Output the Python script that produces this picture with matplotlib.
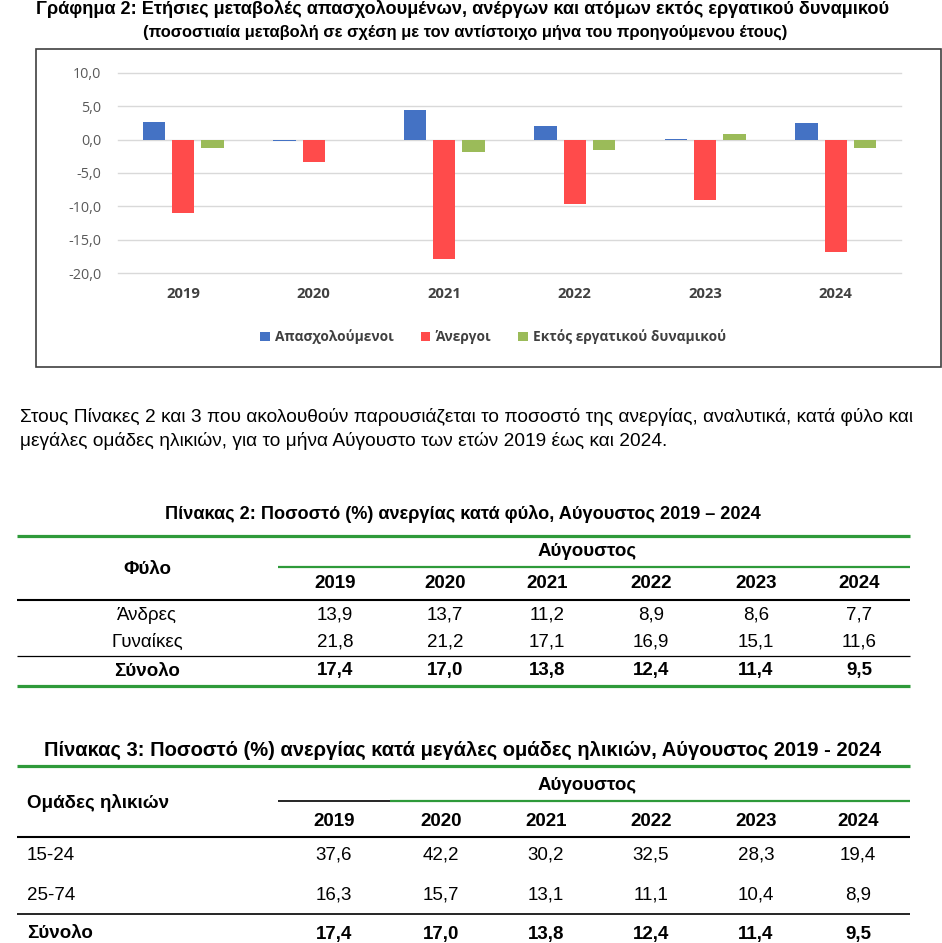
import matplotlib
matplotlib.use('Agg')
import matplotlib.pyplot as plt
import numpy as np
from matplotlib import font_manager
from matplotlib.patches import Rectangle

# chart data (annual % change)
years = ['2019', '2020', '2021', '2022', '2023', '2024']
employed = [2.7, -0.2, 4.4, 2.0, 0.1, 2.5]
unemployed = [-11.0, -3.3, -17.8, -9.7, -9.1, -16.8]
inactive = [-1.3, 0.0, -1.8, -1.6, 0.8, -1.3]
series_names = ['Απασχολούμενοι', 'Άνεργοι', 'Εκτός εργατικού δυναμικού']
yticks = [10, 5, 0, -5, -10, -15, -20]

# table 2: unemployment by sex
sex_labels = ['Άνδρες', 'Γυναίκες', 'Σύνολο']
sex_men = [13.9, 13.7, 11.2, 8.9, 8.6, 7.7]
sex_women = [21.8, 21.2, 17.1, 16.9, 15.1, 11.6]
total = [17.4, 17.0, 13.8, 12.4, 11.4, 9.5]

# table 3: unemployment by age group
age_labels = ['15-24', '25-74', 'Σύνολο']
age_15_24 = [37.6, 42.2, 30.2, 32.5, 28.3, 19.4]
age_25_74 = [16.3, 15.7, 13.1, 11.1, 10.4, 8.9]

title = 'Γράφημα 2: Ετήσιες μεταβολές απασχολουμένων, ανέργων και ατόμων εκτός εργατικού δυναμικού'
subtitle = '(ποσοστιαία μεταβολή σε σχέση με τον αντίστοιχο μήνα του προηγούμενου έτους)'
para1 = 'Στους Πίνακες 2 και 3 που ακολουθούν παρουσιάζεται το ποσοστό της ανεργίας, αναλυτικά, κατά φύλο και'
para2 = 'μεγάλες ομάδες ηλικιών, για το μήνα Αύγουστο των ετών 2019 έως και 2024.'
tab2_title = 'Πίνακας 2: Ποσοστό (%) ανεργίας κατά φύλο, Αύγουστος 2019 – 2024'
tab3_title = 'Πίνακας 3: Ποσοστό (%) ανεργίας κατά μεγάλες ομάδες ηλικιών, Αύγουστος 2019 - 2024'
month = 'Αύγουστος'

installed = {f.name for f in font_manager.fontManager.ttflist}
doc_font = 'Liberation Sans Narrow' if 'Liberation Sans Narrow' in installed else 'Liberation Sans'
chart_font = 'Open Sans'

GREEN = '#2E9A3A'
W, H = 942, 943

fig = plt.figure(figsize=(W / 100, H / 100), dpi=100)
page = fig.add_axes([0, 0, 1, 1])
page.set_xlim(0, W)
page.set_ylim(H, 0)
page.axis('off')
renderer = fig.canvas.get_renderer()


def fit_size(s, width, **kw):
    t = page.text(0, 0, s, fontsize=10, family=doc_font, **kw)
    w = t.get_window_extent(renderer).width
    t.remove()
    return 10 * width / w


def fmt(v):
    return f'{v:.1f}'.replace('.', ',')


# ---- headings
page.text(463, 9, title, ha='center', va='center', family=doc_font, weight='bold',
          fontsize=fit_size(title, 851, weight='bold'))
page.text(465, 32, subtitle, ha='center', va='center', family=doc_font, weight='bold',
          fontsize=fit_size(subtitle, 644, weight='bold'))

# ---- chart box
page.add_patch(Rectangle((36, 49), 905, 318, fill=False, edgecolor='#404040', lw=1.2))

ax = fig.add_axes([118 / W, 1 - 273.3 / H, (901 - 118) / W, (273.3 - 72.7) / H])
x = np.arange(len(years))
bw = 0.172
step = 0.225
ax.bar(x - step, employed, bw, color='#4472C4', label=series_names[0], zorder=3)
ax.bar(x, unemployed, bw, color='#FF4B4B', label=series_names[1], zorder=3)
ax.bar(x + step, inactive, bw, color='#9BBB59', label=series_names[2], zorder=3)
ax.set_xlim(-0.5, len(years) - 0.5)
ax.set_ylim(-20, 10)
ax.set_yticks(yticks)
ax.set_yticklabels([fmt(v) for v in yticks], family=chart_font, fontsize=10.4, color='#595959')
ax.set_xticks(x)
ax.set_xticklabels(years, family=chart_font, fontsize=10.6, weight='bold', color='#404040')
ax.tick_params(axis='x', length=0, pad=10)
ax.tick_params(axis='y', length=0, pad=12)
ax.grid(axis='y', color='#D9D9D9', lw=1)
for line in ax.get_ygridlines():
    line.set_clip_on(False)
for s in ax.spines.values():
    s.set_visible(False)
ax.set_facecolor('none')
leg = fig.legend(*ax.get_legend_handles_labels(), loc='center', ncol=3, frameon=False,
                 bbox_to_anchor=(493 / W, 1 - 337 / H), handlelength=0.7, handleheight=0.7,
                 handletextpad=0.35, columnspacing=2.0,
                 prop={'family': chart_font, 'size': 9.9, 'weight': 'bold'})
for t in leg.get_texts():
    t.set_color('#404040')

# ---- paragraph
psize = fit_size(para1, 898)
page.text(20, 417, para1, ha='left', va='center', family=doc_font, fontsize=psize)
page.text(20, 441, para2, ha='left', va='center', family=doc_font, fontsize=psize)

cell = psize * 0.98


def hline(x0, x1, y, color, lw):
    page.plot([x0, x1], [y, y], color=color, lw=lw, solid_capstyle='butt')


# ---- table 2
cols2 = [335, 445, 547, 651, 756, 859]
page.text(463, 514, tab2_title, ha='center', va='center', family=doc_font, weight='bold',
          fontsize=fit_size(tab2_title, 593, weight='bold'))
hline(17, 910, 536, GREEN, 2.3)
page.text(147, 569, 'Φύλο', ha='center', va='center', family=doc_font, weight='bold', fontsize=cell)
page.text(587, 552, month, ha='center', va='center', family=doc_font, weight='bold', fontsize=cell)
hline(278, 910, 567, GREEN, 1.6)
for cx, yr in zip(cols2, years):
    page.text(cx, 584, yr, ha='center', va='center', family=doc_font, weight='bold', fontsize=cell)
hline(17, 910, 600, 'black', 1.5)
rows2 = [sex_men, sex_women, total]
ys2 = [615, 642, 671]
for lab, vals, yy in zip(sex_labels, rows2, ys2):
    wt = 'bold' if lab == 'Σύνολο' else 'normal'
    page.text(147, yy, lab, ha='center', va='center', family=doc_font, weight=wt, fontsize=cell)
    for cx, v in zip(cols2, vals):
        page.text(cx, yy, fmt(v), ha='center', va='center', family=doc_font, weight=wt, fontsize=cell)
hline(17, 910, 656, 'black', 0.9)
hline(17, 910, 686, GREEN, 2.3)

# ---- table 3
cols3 = [334, 441, 546, 651, 756, 858]
page.text(463, 750, tab3_title, ha='center', va='center', family=doc_font, weight='bold',
          fontsize=fit_size(tab3_title, 835, weight='bold'))
hline(17, 910, 766, GREEN, 2.3)
page.text(27, 803, 'Ομάδες ηλικιών', ha='left', va='center', family=doc_font, weight='bold', fontsize=cell)
page.text(587, 786, month, ha='center', va='center', family=doc_font, weight='bold', fontsize=cell)
hline(278, 390, 801, 'black', 1.2)
hline(390, 910, 801, GREEN, 1.6)
for cx, yr in zip(cols3, years):
    page.text(cx, 821, yr, ha='center', va='center', family=doc_font, weight='bold', fontsize=cell)
hline(17, 910, 837, 'black', 1.5)
rows3 = [age_15_24, age_25_74, total]
ys3 = [855, 895, 934]
for lab, vals, yy in zip(age_labels, rows3, ys3):
    wt = 'bold' if lab == 'Σύνολο' else 'normal'
    page.text(27, yy, lab, ha='left', va='center', family=doc_font, weight=wt, fontsize=cell)
    for cx, v in zip(cols3, vals):
        page.text(cx, yy, fmt(v), ha='center', va='center', family=doc_font, weight=wt, fontsize=cell)
hline(17, 910, 914, 'black', 1.2)

fig.savefig('out.png', dpi=100)
